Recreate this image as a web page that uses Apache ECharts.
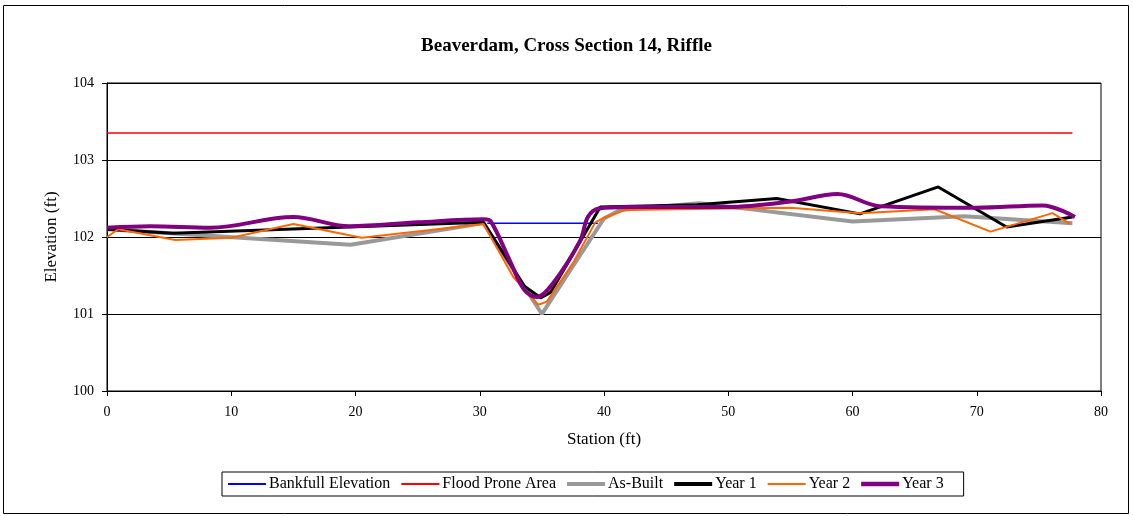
<!DOCTYPE html>
<html>
<head>
<meta charset="utf-8">
<script src="https://cdn.jsdelivr.net/npm/echarts@6/dist/echarts.min.js"></script>
<style>
html,body{margin:0;padding:0;background:#fff;}
#c{width:1133px;height:516px;}
</style>
</head>
<body>
<div id="c"></div>
<script>
var titleText = 'Beaverdam, Cross Section 14, Riffle';
var xName = 'Station (ft)';
var yName = 'Elevation (ft)';
var seriesNames = ['Bankfull Elevation', 'Flood Prone Area', 'As-Built', 'Year 1', 'Year 2', 'Year 3'];

var bankfull = [[30.6, 102.18], [39.5, 102.18]];
var floodProne = [[0, 103.35], [77.7, 103.35]];
var asBuilt = [[0, 102.1], [19.6, 101.9], [30.3, 102.18], [35, 101.0], [40, 102.24], [41.3, 102.35], [47.7, 102.44], [60, 102.2], [69, 102.27], [77.7, 102.18]];
var year1 = [[0, 102.1], [5.3, 102.05], [30.3, 102.19], [33.6, 101.36], [34.9, 101.21], [35.7, 101.28], [39.7, 102.39], [47.5, 102.42], [53.9, 102.5], [60.6, 102.3], [66.9, 102.65], [72.4, 102.13], [77.7, 102.26]];
var year2 = [[0, 102.0], [0.9, 102.1], [5.5, 101.96], [10, 101.99], [15, 102.17], [20.5, 101.99], [30.3, 102.17], [32.7, 101.48], [34.7, 101.12], [35.4, 101.16], [37.5, 101.66], [39.3, 102.19], [40, 102.25], [41.7, 102.35], [50, 102.37], [55, 102.38], [60.6, 102.31], [66.6, 102.36], [71.1, 102.07], [76.1, 102.31], [77.5, 102.17]];
var year3 = [[0, 102.12], [3.5, 102.14], [8.3, 102.12], [15, 102.26], [19.5, 102.14], [25, 102.19], [30.3, 102.23], [30.9, 102.2], [32.4, 101.7], [33.6, 101.31], [34.6, 101.22], [35.9, 101.4], [38.1, 101.96], [38.7, 102.26], [39.6, 102.37], [42, 102.39], [50, 102.39], [55, 102.46], [58.8, 102.56], [62.2, 102.4], [70, 102.38], [75.3, 102.41], [77.9, 102.26]];

var font = 'Liberation Serif, Times New Roman, serif';
var chart = echarts.init(document.getElementById('c'), null, {renderer: 'canvas'});
var colors = ['#0000FF', '#FF0000', '#999999', '#000000', '#FF6600', '#800080'];
var widths = [1.5, 1.5, 4, 3, 2, 4];
var iconH = [2, 2, 4, 4, 2, 4.5];
var datas = [bankfull, floodProne, asBuilt, year1, year2, year3];
var series = datas.map(function (d, i) {
  return {
    name: seriesNames[i], type: 'line', data: d, showSymbol: false, symbol: 'none',
    smooth: i === 5 ? 0.35 : false,
    lineStyle: {color: colors[i], width: widths[i]},
    itemStyle: {color: colors[i]},
    z: 2 + i, animation: false
  };
});
var legendData = seriesNames.map(function (n, i) {
  return {name: n, icon: 'path://M0,0h38v' + iconH[i] + 'h-38z'};
});
chart.setOption({
  animation: false,
  title: {text: titleText, left: 'center', top: 32, textStyle: {fontFamily: font, fontSize: 19, fontWeight: 'bold', color: '#000'}},
  graphic: [{type: 'rect', shape: {x: 3.5, y: 5.5, width: 1125, height: 508}, style: {fill: 'none', stroke: '#000', lineWidth: 1}, silent: true}],
  legend: {
    data: legendData, left: 222, top: 472, orient: 'horizontal',
    itemWidth: 38, itemHeight: 14, itemGap: 11, symbolKeepAspect: true,
    borderColor: '#000', borderWidth: 1, padding: [4, 20, 4, 6],
    textStyle: {fontFamily: font, fontSize: 16, color: '#000', padding: [0, 0, 0, -2]}
  },
  grid: {left: 107, right: 32, top: 83, bottom: 125, show: true, borderColor: '#000', borderWidth: 1, backgroundColor: 'transparent'},
  xAxis: {
    type: 'value', min: 0, max: 80, interval: 10,
    name: xName, nameLocation: 'middle', nameGap: 40,
    nameTextStyle: {fontFamily: font, fontSize: 17, color: '#000'},
    axisLine: {lineStyle: {color: '#000'}},
    axisTick: {show: true, inside: false, length: 5, lineStyle: {color: '#000'}},
    axisLabel: {fontFamily: font, fontSize: 14, color: '#000', margin: 14},
    splitLine: {show: false}
  },
  yAxis: {
    type: 'value', min: 100, max: 104, interval: 1,
    name: yName, nameLocation: 'middle', nameGap: 47,
    nameTextStyle: {fontFamily: font, fontSize: 17, color: '#000'},
    axisLine: {show: true, lineStyle: {color: '#000'}},
    axisTick: {show: true, inside: false, length: 5, lineStyle: {color: '#000'}},
    axisLabel: {fontFamily: font, fontSize: 14, color: '#000', margin: 13},
    splitLine: {show: true, lineStyle: {color: '#000', width: 1}}
  },
  series: series
});
</script>
</body>
</html>
